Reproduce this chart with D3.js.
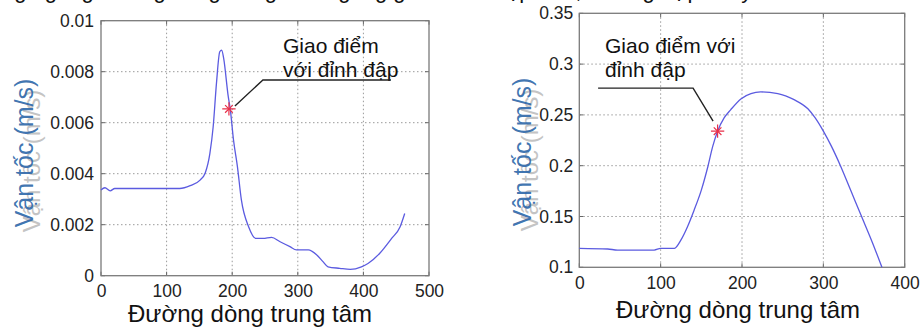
<!DOCTYPE html>
<html>
<head>
<meta charset="utf-8">
<script src="https://cdn.jsdelivr.net/npm/d3@7"></script>
<style>
  body { margin: 0; background: #fff; }
  svg { display: block; font-family: "Liberation Sans", Arial, sans-serif; }
</style>
</head>
<body>
<svg id="chart" width="922" height="329"></svg>
<script>
// ---- datos: grafico izquierdo ----
const leftX = [0, 6, 14, 21, 60, 120, 136, 151, 159, 166, 171, 176, 181, 184, 187, 194, 197, 202, 208, 214, 225, 236, 247, 260, 273, 288, 298, 316, 329, 338, 346, 364, 380, 397, 407, 425, 443, 456, 463];
const leftY = [0.00336, 0.00345, 0.00333, 0.00342, 0.00342, 0.00342, 0.00353, 0.00375, 0.00404, 0.0048, 0.00584, 0.00754, 0.00878, 0.00885, 0.00852, 0.00702, 0.00654, 0.00532, 0.00427, 0.00297, 0.00192, 0.00146, 0.00146, 0.0015, 0.00133, 0.00114, 0.00101, 0.00101, 0.00081, 0.00056, 0.00035, 0.00029, 0.00025, 0.00035, 0.00048, 0.00088, 0.00146, 0.00192, 0.00244];
const leftXTicks = [0, 100, 200, 300, 400, 500];
const leftYTicks = [0, 0.002, 0.004, 0.006, 0.008, 0.01];
const leftYLabels = ["0", "0.002", "0.004", "0.006", "0.008", "0.01"];
const leftStar = [195, 0.00654];

// ---- datos: grafico derecho ----
const rightX = [0, 35, 47, 92, 100, 117, 125, 133, 141, 150, 158, 164, 170, 178, 186, 199, 211, 223, 244, 264, 281, 290, 300, 310, 321, 334, 347, 360, 372];
const rightY = [0.1187, 0.118, 0.117, 0.117, 0.1187, 0.1187, 0.127, 0.14, 0.156, 0.176, 0.199, 0.219, 0.234, 0.247, 0.255, 0.266, 0.271, 0.2726, 0.271, 0.265, 0.256, 0.247, 0.234, 0.219, 0.2, 0.175, 0.15, 0.125, 0.1];
const rightXTicks = [0, 100, 200, 300, 400];
const rightYTicks = [0.1, 0.15, 0.2, 0.25, 0.3, 0.35];
const rightYLabels = ["0.1", "0.15", "0.2", "0.25", "0.3", "0.35"];
const rightStar = [170, 0.234];

const svg = d3.select("#chart");

// Linea de texto cortada arriba (parrafo del documento)
svg.append("text")
    .attr("x", 2)
    .attr("y", -2)
    .style("font-size", "22px")
    .attr("fill", "#111")
    .text("ng ngang đường dòng trung tâm ngang giao điểm đập tràn, trường hợp chảy");

function drawPanel(cfg) {
    const x = d3.scaleLinear().domain(cfg.xDomain).range([cfg.left, cfg.right]);
    const y = d3.scaleLinear().domain(cfg.yDomain).range([cfg.bottom, cfg.top]);
    const g = svg.append("g");

    // Rejilla punteada
    g.selectAll(".vgrid").data(cfg.xTicks.slice(1, -1)).enter().append("line")
        .attr("x1", d => x(d)).attr("x2", d => x(d))
        .attr("y1", cfg.top).attr("y2", cfg.bottom)
        .attr("stroke", "#9a9a9a").attr("stroke-width", 1)
        .attr("stroke-dasharray", "1.5,2.5");
    g.selectAll(".hgrid").data(cfg.yTicks.slice(1, -1)).enter().append("line")
        .attr("x1", cfg.left).attr("x2", cfg.right)
        .attr("y1", d => y(d)).attr("y2", d => y(d))
        .attr("stroke", "#9a9a9a").attr("stroke-width", 1)
        .attr("stroke-dasharray", "1.5,2.5");

    // Marcas hacia dentro en los cuatro lados
    const tk = 4;
    cfg.xTicks.forEach(t => {
        g.append("line").attr("x1", x(t)).attr("x2", x(t)).attr("y1", cfg.bottom).attr("y2", cfg.bottom - tk).attr("stroke", "#666");
        g.append("line").attr("x1", x(t)).attr("x2", x(t)).attr("y1", cfg.top).attr("y2", cfg.top + tk).attr("stroke", "#666");
    });
    cfg.yTicks.forEach(t => {
        g.append("line").attr("x1", cfg.left).attr("x2", cfg.left + tk).attr("y1", y(t)).attr("y2", y(t)).attr("stroke", "#666");
        g.append("line").attr("x1", cfg.right).attr("x2", cfg.right - tk).attr("y1", y(t)).attr("y2", y(t)).attr("stroke", "#666");
    });

    // Marco
    g.append("rect")
        .attr("x", cfg.left).attr("y", cfg.top)
        .attr("width", cfg.right - cfg.left).attr("height", cfg.bottom - cfg.top)
        .attr("fill", "none").attr("stroke", "#7a7a7a").attr("stroke-width", 1.3);

    // Ejes (solo etiquetas)
    const xAxis = g.append("g")
        .attr("transform", `translate(0, ${cfg.bottom})`)
        .call(d3.axisBottom(x).tickValues(cfg.xTicks).tickSize(0).tickPadding(cfg.xPad).tickFormat(d3.format("d")));
    const yAxis = g.append("g")
        .attr("transform", `translate(${cfg.left}, 0)`)
        .call(d3.axisLeft(y).tickValues(cfg.yTicks).tickSize(0).tickPadding(cfg.yPad)
            .tickFormat((d, i) => cfg.yLabels[i]));
    [xAxis, yAxis].forEach(a => {
        a.select(".domain").remove();
        a.selectAll("text").style("font-size", "17.5px").style("font-family", "'Liberation Sans', Arial, sans-serif").attr("fill", "#222");
    });

    // Curva
    g.append("path")
        .datum(d3.zip(cfg.xs, cfg.ys))
        .attr("fill", "none")
        .attr("stroke", "#5b5be0")
        .attr("stroke-width", 1.3)
        .attr("d", d3.line().x(d => x(d[0])).y(d => y(d[1])).curve(d3.curveMonotoneX));

    // Punto de interseccion (*)
    const sx = x(cfg.star[0]), sy = y(cfg.star[1]);
    g.append("path")
        .attr("transform", `translate(${sx}, ${sy})`)
        .attr("d", d3.symbol(d3.symbolPlus, 60)())
        .attr("fill", "none").attr("stroke", "#e8304a").attr("stroke-width", 1.2);
    g.append("path")
        .attr("transform", `translate(${sx}, ${sy})`)
        .attr("d", d3.symbol(d3.symbolTimes, 40)())
        .attr("fill", "none").attr("stroke", "#e8304a").attr("stroke-width", 1.2);

    // Anotacion
    cfg.note.forEach((t, i) => {
        g.append("text")
            .attr("x", cfg.noteX).attr("y", cfg.noteY + i * 24)
            .style("font-size", "21px").attr("fill", "#111")
            .text(t);
    });
    g.append("path")
        .attr("d", d3.line()(cfg.leader.map(p => [sx + p[0], sy + p[1]])))
        .attr("fill", "none").attr("stroke", "#222").attr("stroke-width", 1.4);

    // Titulos de ejes
    g.append("text")
        .attr("x", cfg.xLabelX).attr("y", cfg.xLabelY)
        .attr("text-anchor", "middle")
        .style("font-size", "24px").attr("fill", "#111")
        .text("Đường dòng trung tâm");
    // sombra gris del titulo vertical
    g.append("text")
        .attr("transform", `translate(${cfg.yLabelX + 7}, ${cfg.yLabelY + 8}) rotate(-90)`)
        .attr("text-anchor", "middle").attr("dominant-baseline", "central")
        .style("font-size", "24px").attr("fill", "#c4c4c4")
        .text("Vận tốc (m/s)");
    g.append("text")
        .attr("transform", `translate(${cfg.yLabelX}, ${cfg.yLabelY}) rotate(-90)`)
        .attr("text-anchor", "middle").attr("dominant-baseline", "central")
        .style("font-size", "25px").attr("fill", "#2f68aa").attr("fill-opacity", 0.92)
        .text("Vận tốc (m/s)");
}

drawPanel({
    xDomain: [0, 500], yDomain: [0, 0.01],
    left: 101, right: 429, top: 20.7, bottom: 275.7,
    xTicks: leftXTicks, yTicks: leftYTicks, yLabels: leftYLabels,
    xPad: 9, yPad: 7,
    xs: leftX, ys: leftY, star: leftStar,
    note: ["Giao điểm", "với đỉnh đập"], noteX: 283, noteY: 53,
    leader: [[162, -29], [34, -29], [6, -3]],
    xLabelX: 250, xLabelY: 322, yLabelX: 24, yLabelY: 153
});

drawPanel({
    xDomain: [0, 400], yDomain: [0.1, 0.35],
    left: 579.3, right: 904.7, top: 13.3, bottom: 267.3,
    xTicks: rightXTicks, yTicks: rightYTicks, yLabels: rightYLabels,
    xPad: 9, yPad: 6,
    xs: rightX, ys: rightY, star: rightStar,
    note: ["Giao điểm với", "đỉnh đập"], noteX: 605, noteY: 53,
    leader: [[-119.5, -43], [-24.5, -43], [-4.5, -10]],
    xLabelX: 738, xLabelY: 318, yLabelX: 522, yLabelY: 152
});
</script>
</body>
</html>
